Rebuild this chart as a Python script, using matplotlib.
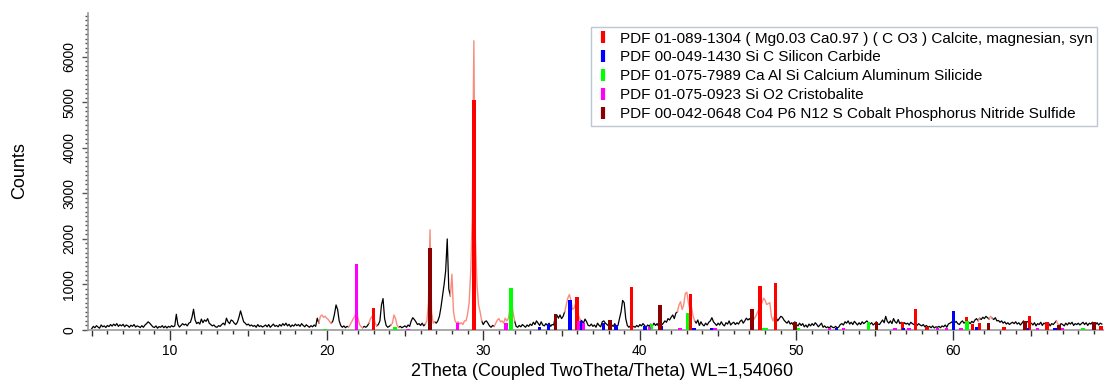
import numpy as np
import matplotlib
matplotlib.use("Agg")
import matplotlib.pyplot as plt
from matplotlib.lines import Line2D

plt.rcParams['font.family'] = ['Liberation Sans', 'DejaVu Sans']

# measured scan, 2theta from 5.0 in steps of 0.1 deg
scan_start = 5.0
scan_step = 0.1
counts = [
    30, 80, 50, 95, 65, 40, 110, 70, 90, 55,          # 5
    100, 75, 120, 85, 130, 95, 140, 80, 115, 90,      # 6
    125, 70, 110, 95, 60, 105, 80, 120, 65, 90,       # 7
    75, 55, 95, 60, 110, 140, 180, 150, 110, 70,      # 8
    55, 90, 40, 75, 60, 95, 50, 85, 45, 80,           # 9
    60, 95, 70, 90, 345, 120, 65, 100, 140, 110,      # 10
    130, 90, 150, 170, 280, 455, 220, 140, 170, 130,  # 11
    240, 160, 220, 190, 250, 150, 120, 90, 110, 70,   # 12
    60, 95, 80, 120, 150, 110, 260, 180, 140, 220,    # 13
    200, 150, 120, 170, 280, 420, 300, 180, 150, 110, # 14
    130, 90, 110, 80, 100, 60, 120, 75, 95, 65,       # 15
    85, 110, 70, 120, 60, 95, 130, 80, 100, 70,       # 16
    120, 85, 140, 100, 150, 90, 125, 70, 110, 85,     # 17
    130, 95, 120, 80, 140, 100, 70, 115, 85, 60,      # 18
    95, 70, 110, 80, 260, 150, 300, 330, 280, 300,    # 19
    260, 230, 180, 150, 200, 350, 550, 450, 200, 100, # 20
    60, 90, 50, 80, 70, 120, 180, 250, 300, 430,      # 21
    260, 120, 70, 50, 80, 60, 90, 150, 250, 300,      # 22
    280, 150, 90, 120, 200, 550, 690, 250, 100, 60,   # 23
    80, 110, 150, 330, 250, 100, 60, 80, 50, 70,      # 24
    90, 60, 110, 80, 200, 270, 230, 180, 120, 140,    # 25
    100, 150, 90, 130, 200, 600, 2200, 400, 150, 180, # 26
    150, 200, 300, 500, 750, 1000, 1300, 2000, 900, 750,   # 27
    1225, 400, 200, 150, 180, 130, 160, 120, 200, 200,     # 28
    350, 600, 1300, 2500, 6350, 2000, 1000, 550, 400, 200, # 29
    120, 180, 200, 150, 90, 60, 100, 80, 150, 220,    # 30
    250, 180, 200, 150, 260, 200, 250, 450, 650, 400, # 31
    200, 80, 60, 100, 70, 120, 90, 60, 110, 80,       # 32
    130, 100, 170, 120, 200, 150, 100, 180, 110, 90,  # 33
    140, 100, 150, 80, 120, 110, 300, 330, 260, 330,  # 34
    250, 300, 400, 550, 700, 780, 650, 450, 480, 580, # 35
    450, 300, 220, 200, 150, 240, 180, 100, 90, 130,  # 36
    80, 110, 60, 150, 100, 70, 180, 200, 150, 120,    # 37
    90, 200, 110, 80, 140, 60, 100, 250, 400, 650,    # 38
    600, 250, 100, 60, 90, 50, 80, 60, 100, 70,       # 39
    120, 90, 140, 100, 60, 110, 80, 130, 90, 150,     # 40
    100, 140, 80, 120, 110, 150, 200, 170, 250, 220,  # 41
    280, 330, 250, 370, 400, 550, 620, 450, 550, 800, # 42
    830, 600, 450, 500, 300, 200, 150, 220, 100, 180, # 43
    120, 90, 150, 110, 170, 200, 270, 180, 140, 100,  # 44
    150, 110, 180, 120, 90, 160, 130, 200, 110, 150,  # 45
    170, 120, 160, 130, 190, 220, 150, 200, 260, 220, # 46
    250, 200, 230, 250, 300, 380, 450, 520, 600, 700, # 47
    650, 560, 580, 600, 300, 200, 300, 280, 200, 250, # 48
    300, 280, 220, 180, 150, 200, 130, 160, 110, 180, # 49
    120, 90, 150, 100, 140, 70, 110, 60, 130, 90,     # 50
    140, 100, 160, 120, 70, 110, 150, 60, 90, 50,     # 51
    70, 40, 90, 60, 50, 80, 45, 65, 120, 140,         # 52
    110, 180, 150, 200, 130, 170, 120, 190, 150, 110, # 53
    160, 120, 180, 140, 170, 200, 150, 130, 160, 110, # 54
    140, 180, 130, 120, 170, 220, 160, 300, 190, 150, # 55
    200, 140, 250, 180, 150, 230, 140, 170, 120, 160, # 56
    130, 150, 110, 170, 140, 120, 160, 100, 140, 110, # 57
    90, 120, 70, 100, 60, 80, 50, 90, 45, 70,         # 58
    60, 80, 50, 90, 70, 110, 60, 130, 150, 170,       # 59
    200, 160, 190, 140, 120, 170, 200, 150, 180, 130, # 60
    170, 140, 190, 160, 220, 250, 200, 260, 230, 280, # 61
    250, 300, 270, 240, 300, 260, 230, 270, 200, 210, # 62
    170, 200, 150, 180, 130, 160, 120, 150, 170, 140, # 63
    180, 130, 160, 110, 150, 200, 140, 170, 190, 130, # 64
    150, 110, 160, 90, 140, 120, 170, 100, 150, 130,  # 65
    110, 150, 90, 140, 120, 160, 200, 130, 100, 140,  # 66
    120, 90, 150, 110, 160, 130, 170, 100, 140, 120,  # 67
    150, 110, 140, 170, 120, 160, 100, 150, 130, 170, # 68
    140, 120, 160, 110, 150, 130,                     # 69
]
# parts of the scan drawn in salmon (calcite matched ranges)
salmon_ranges = [(19.5, 20.3), (21.4, 22.3), (22.7, 23.2), (24.1, 24.6),
                 (26.3, 26.9), (27.85, 29.95), (30.7, 32.05), (35.15, 36.25),
                 (42.35, 43.55), (47.25, 48.75), (61.55, 61.75), (62.3, 62.5),
                 (66.6, 66.8)]

# reference patterns (stick positions / heights)
calcite_pos = [22.98, 29.41, 36.0, 39.48, 43.25, 47.68, 48.68, 56.76, 57.6,
               58.33, 60.87, 61.25, 61.68, 63.26, 64.9, 66.0, 69.45]
calcite_h = [480, 5040, 720, 940, 785, 970, 1030, 170, 460,
             60, 280, 125, 150, 70, 310, 185, 80]
sic_pos = [33.6, 34.16, 35.54, 36.25, 37.67, 38.48, 40.33, 41.35, 43.45,
           44.6, 52.57, 56.85, 60.02, 61.5, 64.75, 66.5]
sic_h = [60, 130, 660, 195, 160, 115, 90, 80, 50,
         40, 50, 40, 410, 60, 50, 50]
casi_pos = [19.9, 24.37, 31.77, 40.75, 43.03, 47.9, 48.05, 50.1, 54.6, 60.9, 68.3]
casi_h = [30, 60, 930, 130, 380, 50, 50, 40, 170, 205, 40]
crist_pos = [21.92, 25.2, 28.36, 31.46, 36.1, 36.4, 40.6, 42.55, 44.8, 52.1,
             53.0, 56.3, 57.2, 59.0, 59.6, 60.5, 65.4, 67.0]
crist_h = [1450, 30, 150, 150, 205, 160, 60, 50, 50, 40,
           40, 40, 50, 40, 40, 40, 40, 40]
copns_pos = [26.6, 34.6, 38.1, 41.29, 47.15, 49.9, 55.1, 62.26, 64.6, 66.77, 69.0]
copns_h = [1800, 345, 213, 550, 455, 183, 170, 150, 205, 100, 170]

phases = [
    ("PDF 01-089-1304 ( Mg0.03 Ca0.97 ) ( C O3 ) Calcite, magnesian, syn", "#ff0000", calcite_pos, calcite_h),
    ("PDF 00-049-1430 Si C Silicon Carbide", "#0000ff", sic_pos, sic_h),
    ("PDF 01-075-7989 Ca Al Si Calcium Aluminum Silicide", "#00ff00", casi_pos, casi_h),
    ("PDF 01-075-0923 Si O2 Cristobalite", "#ff00ff", crist_pos, crist_h),
    ("PDF 00-042-0648 Co4 P6 N12 S Cobalt Phosphorus Nitride Sulfide", "#8c0000", copns_pos, copns_h),
]

x = scan_start + scan_step * np.arange(len(counts))
y = np.array(counts, dtype=float)

# black everywhere except inside the salmon ranges (edges kept in both)
inside = np.zeros(len(x), dtype=bool)
for a, b in salmon_ranges:
    inside |= (x > a + 0.06) & (x < b - 0.06)
y_black = np.where(inside, np.nan, y)

fig = plt.figure(figsize=(11.04, 3.83), dpi=100)
ax = fig.add_axes([88 / 1104, 53 / 383, 1016 / 1104, 317 / 383])

ax.plot(x, y_black, color="black", lw=0.9, zorder=2)
for a, b in salmon_ranges:
    m = (x >= a - 1e-6) & (x <= b + 1e-6)
    ax.plot(x[m], y[m], color="#fa8c7e", lw=1.0, zorder=3)

handles = []
for label, col, pos, h in phases:
    ax.bar(pos, h, width=0.22, color=col, linewidth=0, zorder=4)
    handles.append(Line2D([], [], marker="|", linestyle="none", color=col,
                          markersize=9, markeredgewidth=3, label=label))

ax.set_xlim(4.76, 69.64)
ax.set_ylim(0, 6960)

for s in ["top", "right"]:
    ax.spines[s].set_visible(False)
for s in ["left", "bottom"]:
    ax.spines[s].set_color("#9a9a9a")
    ax.spines[s].set_linewidth(1.2)

ax.set_xticks(np.arange(5, 70, 5))
ax.set_xticklabels([str(v) if v % 10 == 0 else "" for v in range(5, 70, 5)])
ax.set_xticks(np.arange(5, 70, 1), minor=True)
ax.set_yticks(np.arange(0, 7000, 1000))
ax.set_yticks(np.arange(0, 6960, 100), minor=True)
ax.tick_params(axis="x", which="major", length=7, width=1, color="#333333",
               labelsize=10, pad=3)
ax.tick_params(axis="x", which="minor", length=3, width=1, color="#333333")
ax.tick_params(axis="y", which="major", length=4.5, width=1, color="#555555",
               labelsize=10, labelrotation=90, pad=4)
ax.tick_params(axis="y", which="minor", length=2.5, width=1, color="#555555")
for lbl in ax.get_yticklabels():
    lbl.set_va("center")
for t, v in zip(ax.xaxis.get_major_ticks(), range(5, 70, 5)):
    t.tick1line.set_markersize(7 if v % 10 == 0 else 4.5)

fig.text(20 / 1104, 1 - 171 / 383, "Counts", rotation=90, ha="center",
         va="center", fontsize=13)
fig.text(602 / 1104, 1 - 372 / 383, "2Theta (Coupled TwoTheta/Theta) WL=1,54060",
         ha="center", va="center", fontsize=13)

leg = ax.legend(handles=handles, loc="upper right",
                bbox_to_anchor=(1097 / 1104, 1 - 27 / 383),
                bbox_transform=fig.transFigure, fontsize=11, frameon=True,
                fancybox=False, edgecolor="#b0b8c8", labelspacing=0.32,
                handlelength=1.0, handletextpad=0.6, borderpad=0.3,
                borderaxespad=0)
leg.get_frame().set_linewidth(1.0)

fig.savefig("out.png", dpi=100)
